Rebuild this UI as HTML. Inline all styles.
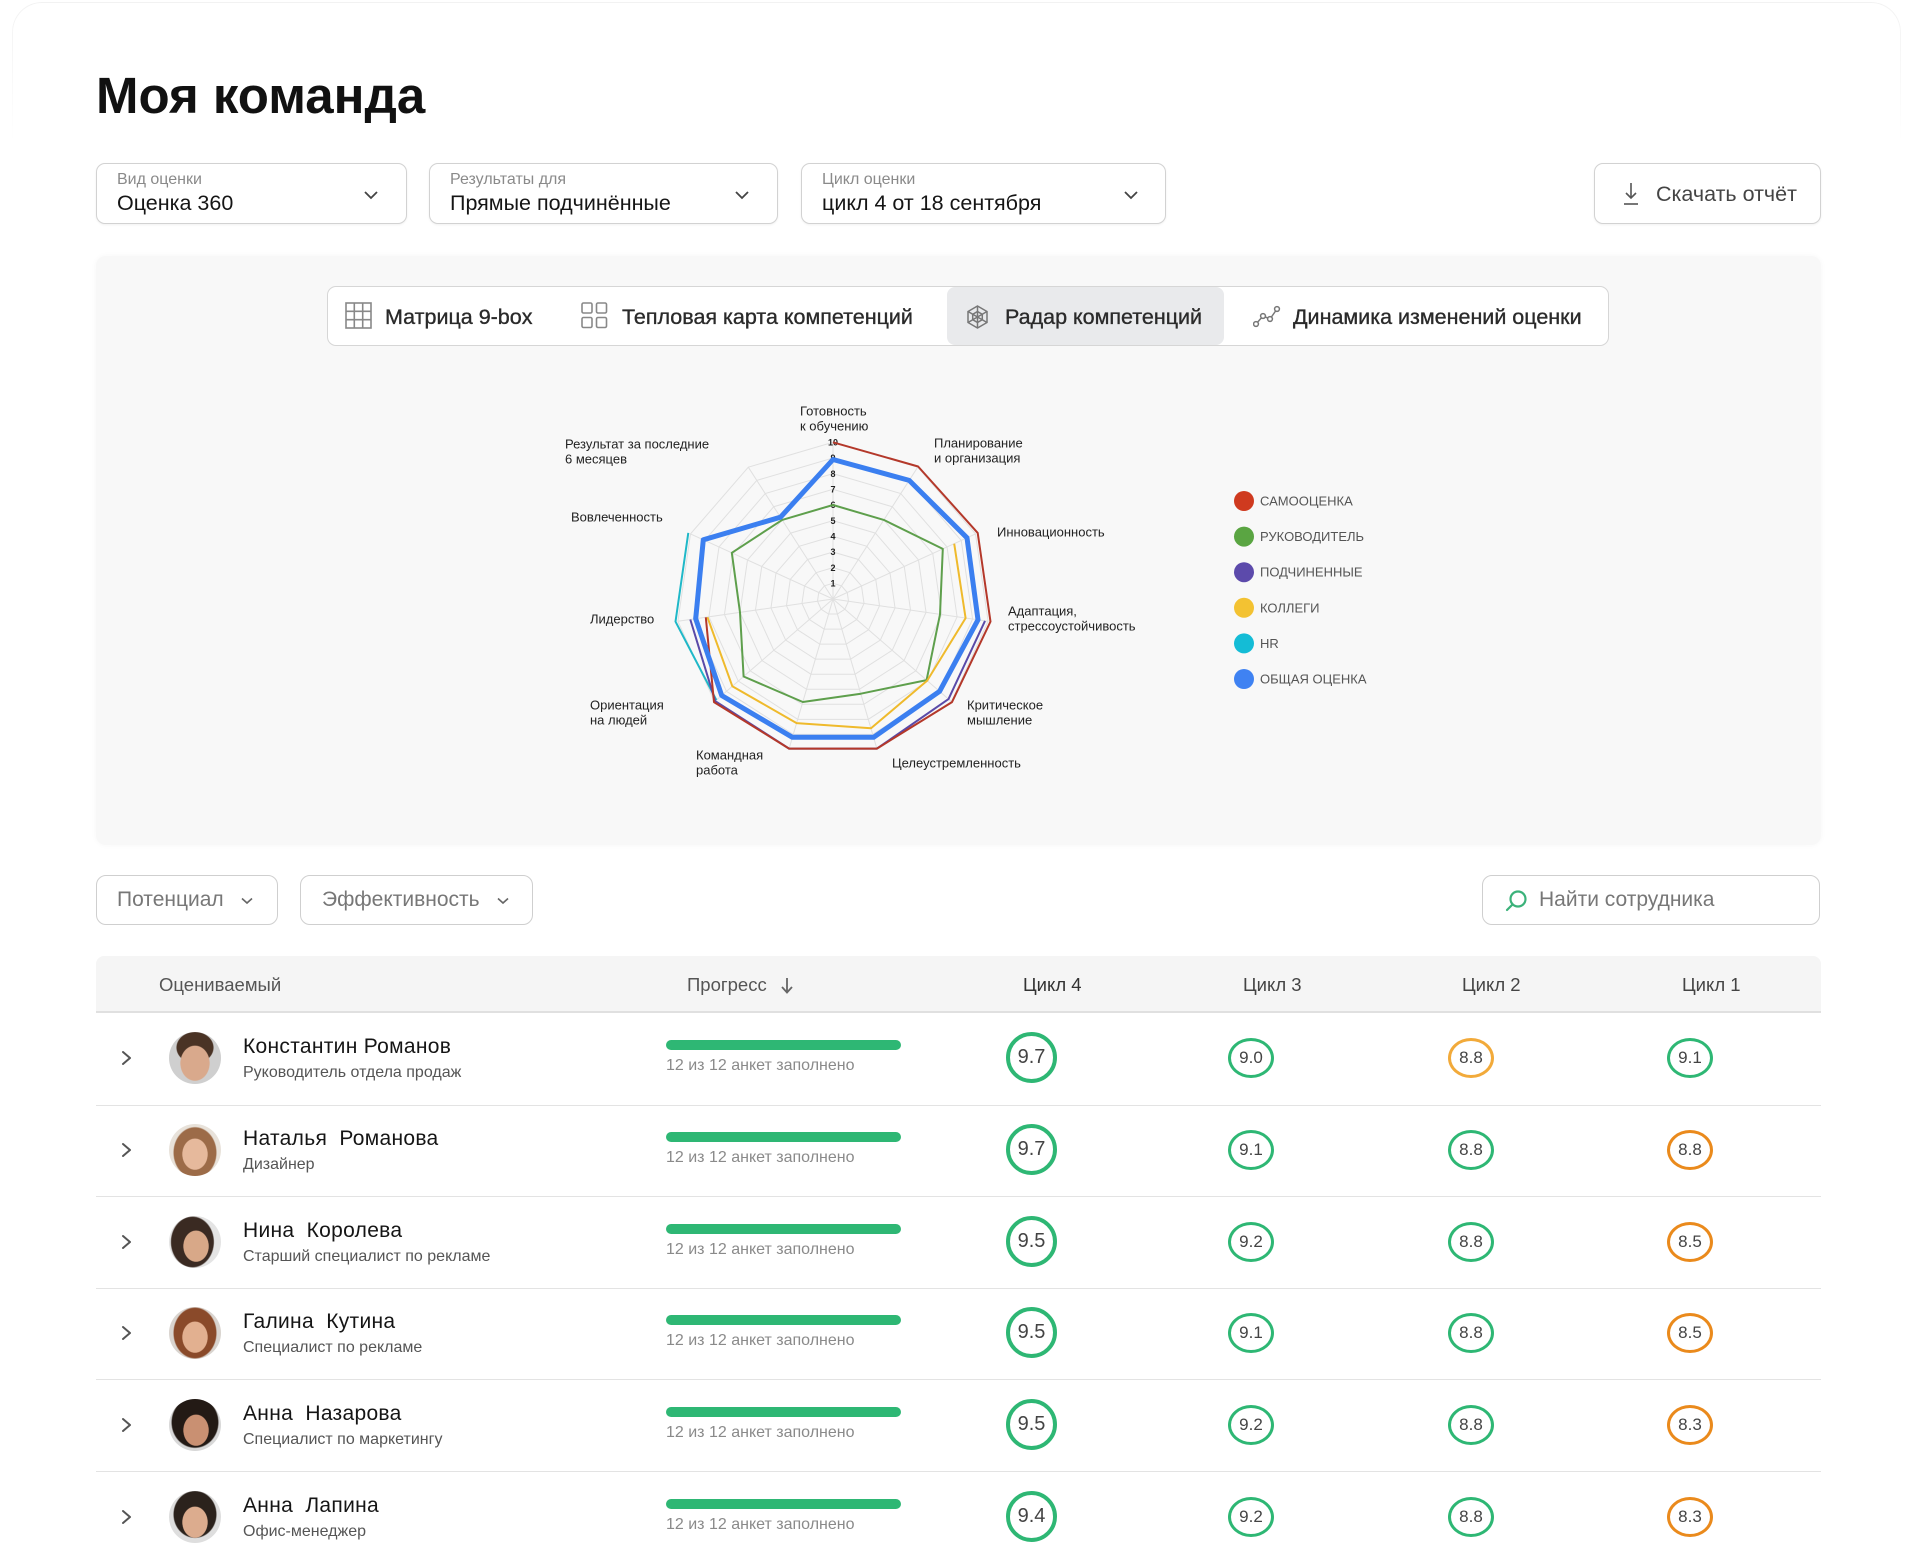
<!DOCTYPE html>
<html lang="ru">
<head>
<meta charset="utf-8">
<style>
  html{margin:0;padding:0;width:1911px;height:1545px;overflow:hidden;}
  body{margin:0;padding:0;width:1911px;height:1545px;overflow:hidden;background:#fff;position:relative;
       font-family:"Liberation Sans","Noto Sans CJK SC",sans-serif;color:#222;}
  .abs{position:absolute;}
  .t{position:absolute;white-space:nowrap;}
  .dd{position:absolute;top:163px;height:61px;box-sizing:border-box;border:1px solid #d2d2d2;border-radius:9px;background:#fff;box-shadow:0 1px 2px rgba(0,0,0,0.06);}
  .ddl{position:absolute;left:20px;top:6px;font-size:16px;line-height:19px;color:#8a8a8a;white-space:nowrap;}
  .ddv{position:absolute;left:20px;top:27px;font-size:21.5px;line-height:25px;color:#151515;white-space:nowrap;}
  .fb{position:absolute;top:875px;height:50px;box-sizing:border-box;border:1px solid #cfcfcf;border-radius:10px;background:#fff;}
  .fbt{position:absolute;top:11px;font-size:21px;line-height:26px;color:#777;white-space:nowrap;}
  .hd{position:absolute;top:973px;font-size:18.5px;line-height:23px;color:#555;white-space:nowrap;}
  .sep{position:absolute;left:96px;width:1725px;height:1px;background:#e3e3e3;}
  .av{position:absolute;left:169px;width:52px;height:52px;border-radius:50%;overflow:hidden;}
  .nm{position:absolute;left:243px;font-size:21px;line-height:24px;letter-spacing:0.3px;color:#151515;white-space:nowrap;}
  .sb{position:absolute;left:243px;font-size:16px;line-height:20px;color:#555;white-space:nowrap;}
  .pb{position:absolute;left:666px;width:235px;height:10px;border-radius:5px;background:#2eb774;}
  .pt{position:absolute;left:666px;font-size:16px;line-height:20px;color:#8a8a8a;white-space:nowrap;}
  .c4{position:absolute;left:1006px;width:51px;height:51px;box-sizing:border-box;border:4.5px solid #2eb774;border-radius:50%;
      display:flex;align-items:center;justify-content:center;font-size:20px;color:#444;}
  .cs{position:absolute;width:46px;height:40px;box-sizing:border-box;border:3px solid #2eb774;border-radius:50%;
      display:flex;align-items:center;justify-content:center;font-size:17px;color:#444;}
  .o1{border-color:#f2aa3a;}
  .o2{border-color:#ea8a1c;}
  .tab{position:absolute;top:304px;font-size:21.5px;line-height:26px;color:#2a2a2a;white-space:nowrap;-webkit-text-stroke:0.35px #2a2a2a;}
</style>
</head>
<body>

<!-- faint outer card (top only) -->
<div class="abs" style="left:12px;top:2px;width:1887px;height:140px;border:1px solid #f2f2f2;border-bottom:none;border-radius:30px 30px 0 0;-webkit-mask-image:linear-gradient(#000,transparent);mask-image:linear-gradient(#000,transparent);"></div>

<!-- Title -->
<div class="t" style="left:96px;top:68px;font-size:51px;line-height:56px;font-weight:bold;color:#111;">Моя команда</div>

<!-- Dropdowns -->
<div class="dd" style="left:96px;width:311px;">
  <div class="ddl">Вид оценки</div>
  <div class="ddv">Оценка 360</div>
  <svg class="abs" style="left:267px;top:26px" width="14" height="10"><polyline points="1,2 7,8 13,2" fill="none" stroke="#444" stroke-width="1.8"/></svg>
</div>
<div class="dd" style="left:429px;width:349px;">
  <div class="ddl">Результаты для</div>
  <div class="ddv">Прямые подчинённые</div>
  <svg class="abs" style="left:305px;top:26px" width="14" height="10"><polyline points="1,2 7,8 13,2" fill="none" stroke="#444" stroke-width="1.8"/></svg>
</div>
<div class="dd" style="left:801px;width:365px;">
  <div class="ddl">Цикл оценки</div>
  <div class="ddv">цикл 4 от 18 сентября</div>
  <svg class="abs" style="left:322px;top:26px" width="14" height="10"><polyline points="1,2 7,8 13,2" fill="none" stroke="#444" stroke-width="1.8"/></svg>
</div>
<div class="dd" style="left:1594px;width:227px;">
  <svg class="abs" style="left:27px;top:17px" width="18" height="26">
    <line x1="9" y1="2" x2="9" y2="17" stroke="#555" stroke-width="1.6"/>
    <polyline points="4,12 9,17 14,12" fill="none" stroke="#555" stroke-width="1.6"/>
    <line x1="2" y1="23" x2="16" y2="23" stroke="#555" stroke-width="1.6"/>
  </svg>
  <div class="t" style="left:61px;top:17px;font-size:21.5px;line-height:26px;color:#444;">Скачать отчёт</div>
</div>

<!-- Grey panel -->
<div class="abs" style="left:96px;top:256px;width:1725px;height:589px;background:#f8f8f8;border-radius:10px;box-shadow:0 0 6px rgba(0,0,0,0.04);"></div>

<!-- Tabs -->
<div class="abs" style="left:327px;top:286px;width:1282px;height:60px;box-sizing:border-box;background:#fff;border:1px solid #d6d6d6;border-radius:9px;"></div>
<div class="abs" style="left:947px;top:287px;width:277px;height:58px;background:#e9eaec;border-radius:8px;"></div>

<svg class="abs" style="left:345px;top:302px" width="27" height="27">
  <rect x="1" y="1" width="25" height="25" fill="none" stroke="#888" stroke-width="1.6"/>
  <line x1="9.3" y1="1" x2="9.3" y2="26" stroke="#888" stroke-width="1.6"/>
  <line x1="17.7" y1="1" x2="17.7" y2="26" stroke="#888" stroke-width="1.6"/>
  <line x1="1" y1="9.3" x2="26" y2="9.3" stroke="#888" stroke-width="1.6"/>
  <line x1="1" y1="17.7" x2="26" y2="17.7" stroke="#888" stroke-width="1.6"/>
</svg>
<div class="tab" style="left:385px;">Матрица 9-box</div>

<svg class="abs" style="left:581px;top:302px" width="27" height="27">
  <rect x="1" y="1" width="10" height="10" rx="1.5" fill="none" stroke="#888" stroke-width="1.6"/>
  <rect x="15.5" y="1" width="10" height="10" rx="1.5" fill="none" stroke="#888" stroke-width="1.6"/>
  <rect x="1" y="15.5" width="10" height="10" rx="1.5" fill="none" stroke="#888" stroke-width="1.6"/>
  <rect x="15.5" y="15.5" width="10" height="10" rx="1.5" fill="none" stroke="#888" stroke-width="1.6"/>
</svg>
<div class="tab" style="left:622px;">Тепловая карта компетенций</div>

<svg class="abs" style="left:965px;top:304px" width="25" height="26">
  <g transform="translate(12.5,13)" fill="none" stroke="#777" stroke-width="1.5">
    <polygon points="0,-11 9.5,-5.5 9.5,5.5 0,11 -9.5,5.5 -9.5,-5.5"/>
    <polygon points="0,-5.5 4.8,-2.7 4.8,2.7 0,5.5 -4.8,2.7 -4.8,-2.7"/>
    <line x1="0" y1="-11" x2="0" y2="11"/>
    <line x1="-9.5" y1="-5.5" x2="9.5" y2="5.5"/>
    <line x1="-9.5" y1="5.5" x2="9.5" y2="-5.5"/>
  </g>
</svg>
<div class="tab" style="left:1005px;">Радар компетенций</div>

<svg class="abs" style="left:1253px;top:304px" width="28" height="24">
  <g fill="none" stroke="#777" stroke-width="1.5">
    <polyline points="3,20 10,12 17,15 24,5"/>
    <circle cx="3" cy="20" r="2.4" fill="#fff"/>
    <circle cx="10" cy="12" r="2.4" fill="#fff"/>
    <circle cx="17" cy="15" r="2.4" fill="#fff"/>
    <circle cx="24" cy="5" r="2.4" fill="#fff"/>
  </g>
</svg>
<div class="tab" style="left:1293px;">Динамика изменений оценки</div>

<!-- Radar chart -->
<svg class="abs" style="left:0;top:0" width="1911" height="1545">
  <g transform="translate(833,599)">
    <g fill="none" stroke="#e0e0e0" stroke-width="1">
      <polygon vector-effect="non-scaling-stroke" transform="scale(1)" points="0,-156.7 84.7,-131.8 142.5,-65.1 155.1,22.3 118.4,102.6 44.1,150.4 -44.1,150.4 -118.4,102.6 -155.1,22.3 -142.5,-65.1 -84.7,-131.8"/>
      <polygon vector-effect="non-scaling-stroke" transform="scale(0.9)" points="0,-156.7 84.7,-131.8 142.5,-65.1 155.1,22.3 118.4,102.6 44.1,150.4 -44.1,150.4 -118.4,102.6 -155.1,22.3 -142.5,-65.1 -84.7,-131.8"/>
      <polygon vector-effect="non-scaling-stroke" transform="scale(0.8)" points="0,-156.7 84.7,-131.8 142.5,-65.1 155.1,22.3 118.4,102.6 44.1,150.4 -44.1,150.4 -118.4,102.6 -155.1,22.3 -142.5,-65.1 -84.7,-131.8"/>
      <polygon vector-effect="non-scaling-stroke" transform="scale(0.7)" points="0,-156.7 84.7,-131.8 142.5,-65.1 155.1,22.3 118.4,102.6 44.1,150.4 -44.1,150.4 -118.4,102.6 -155.1,22.3 -142.5,-65.1 -84.7,-131.8"/>
      <polygon vector-effect="non-scaling-stroke" transform="scale(0.6)" points="0,-156.7 84.7,-131.8 142.5,-65.1 155.1,22.3 118.4,102.6 44.1,150.4 -44.1,150.4 -118.4,102.6 -155.1,22.3 -142.5,-65.1 -84.7,-131.8"/>
      <polygon vector-effect="non-scaling-stroke" transform="scale(0.5)" points="0,-156.7 84.7,-131.8 142.5,-65.1 155.1,22.3 118.4,102.6 44.1,150.4 -44.1,150.4 -118.4,102.6 -155.1,22.3 -142.5,-65.1 -84.7,-131.8"/>
      <polygon vector-effect="non-scaling-stroke" transform="scale(0.4)" points="0,-156.7 84.7,-131.8 142.5,-65.1 155.1,22.3 118.4,102.6 44.1,150.4 -44.1,150.4 -118.4,102.6 -155.1,22.3 -142.5,-65.1 -84.7,-131.8"/>
      <polygon vector-effect="non-scaling-stroke" transform="scale(0.3)" points="0,-156.7 84.7,-131.8 142.5,-65.1 155.1,22.3 118.4,102.6 44.1,150.4 -44.1,150.4 -118.4,102.6 -155.1,22.3 -142.5,-65.1 -84.7,-131.8"/>
      <polygon vector-effect="non-scaling-stroke" transform="scale(0.2)" points="0,-156.7 84.7,-131.8 142.5,-65.1 155.1,22.3 118.4,102.6 44.1,150.4 -44.1,150.4 -118.4,102.6 -155.1,22.3 -142.5,-65.1 -84.7,-131.8"/>
      <polygon vector-effect="non-scaling-stroke" transform="scale(0.1)" points="0,-156.7 84.7,-131.8 142.5,-65.1 155.1,22.3 118.4,102.6 44.1,150.4 -44.1,150.4 -118.4,102.6 -155.1,22.3 -142.5,-65.1 -84.7,-131.8"/>
      <line x1="0" y1="0" x2="0" y2="-156.7"/>
      <line x1="0" y1="0" x2="84.7" y2="-131.8"/>
      <line x1="0" y1="0" x2="142.5" y2="-65.1"/>
      <line x1="0" y1="0" x2="155.1" y2="22.3"/>
      <line x1="0" y1="0" x2="118.4" y2="102.6"/>
      <line x1="0" y1="0" x2="44.1" y2="150.4"/>
      <line x1="0" y1="0" x2="-44.1" y2="150.4"/>
      <line x1="0" y1="0" x2="-118.4" y2="102.6"/>
      <line x1="0" y1="0" x2="-155.1" y2="22.3"/>
      <line x1="0" y1="0" x2="-142.5" y2="-65.1"/>
      <line x1="0" y1="0" x2="-84.7" y2="-131.8"/>
    </g>
    <!-- tick labels -->
    <g font-family="Liberation Sans, sans-serif" font-size="9" font-weight="bold" fill="#222" text-anchor="middle">
      <text x="0" y="-12.5">1</text>
      <text x="0" y="-28.1">2</text>
      <text x="0" y="-43.8">3</text>
      <text x="0" y="-59.5">4</text>
      <text x="0" y="-75.2">5</text>
      <text x="0" y="-90.8">6</text>
      <text x="0" y="-106.5">7</text>
      <text x="0" y="-122.2">8</text>
      <text x="0" y="-137.8">9</text>
      <text x="0" y="-153.5">10</text>
    </g>
    <!-- series -->
    <polygon fill="none" stroke="#5e9f4c" stroke-width="2" stroke-linejoin="round"
      points="0,-94 50.8,-79.1 109.8,-50.1 107,15.4 93.6,81.1 27.8,94.7 -30.2,103 -89.4,77.5 -93,13.4 -101.2,-46.2 -50.8,-79.1"/>
    <polyline fill="none" stroke="#efba2c" stroke-width="2" stroke-linejoin="round"
      points="121.2,-55.3 132.6,19.1 94.2,81.6 38,129.3 -36.4,124.1 -100.7,87.2 -125.6,18.1"/>
    <polyline fill="none" stroke="#1fb8c8" stroke-width="2" stroke-linejoin="round"
      points="-116.6,101.1 -157.5,22.6 -144.7,-66.1"/>
    <polyline fill="none" stroke="#5a4aa8" stroke-width="2" stroke-linejoin="round"
      points="152,21.9 115.5,100.1 43.9,149.6 -43.9,149.6 -117.8,102.1 -142.7,20.5"/>
    <polyline fill="none" stroke="#b4382a" stroke-width="2" stroke-linejoin="round"
      points="0,-156.7 85.1,-132.5 144.7,-66.1 157.5,22.6 119,103.1 43.9,149.6 -43.9,149.6 -119,103.1 -127.2,18.3"/>
    <polygon fill="none" stroke="#3b7ff0" stroke-width="5" stroke-linejoin="round"
      points="0,-139.5 76.2,-118.6 134,-61.2 145,20.8 106.6,92.3 40.6,138.3 -40.6,138.3 -111.3,96.5 -137.3,19.7 -129.7,-59.2 -52.5,-81.8"/>
  </g>
  <!-- axis labels -->
  <g font-family="Liberation Sans, sans-serif" font-size="13" fill="#222">
    <text x="800" y="415.5">Готовность</text>
    <text x="800" y="430.5">к обучению</text>
    <text x="565" y="448.5">Результат за последние</text>
    <text x="565" y="463.5">6 месяцев</text>
    <text x="934" y="447.5">Планирование</text>
    <text x="934" y="462.5">и организация</text>
    <text x="571" y="521.5">Вовлеченность</text>
    <text x="997" y="536.5">Инновационность</text>
    <text x="590" y="623.5">Лидерство</text>
    <text x="1008" y="615.5">Адаптация,</text>
    <text x="1008" y="630.5">стрессоустойчивость</text>
    <text x="590" y="709.5">Ориентация</text>
    <text x="590" y="724.5">на людей</text>
    <text x="967" y="709.5">Критическое</text>
    <text x="967" y="724.5">мышление</text>
    <text x="696" y="759.5">Командная</text>
    <text x="696" y="774.5">работа</text>
    <text x="892" y="767.5">Целеустремленность</text>
  </g>
  <!-- legend -->
  <g>
    <circle cx="1244" cy="501" r="10" fill="#cf3a1f"/>
    <circle cx="1244" cy="536.6" r="10" fill="#5aa542"/>
    <circle cx="1244" cy="572.2" r="10" fill="#5c4aab"/>
    <circle cx="1244" cy="607.8" r="10" fill="#f3c232"/>
    <circle cx="1244" cy="643.4" r="10" fill="#14bcd6"/>
    <circle cx="1244" cy="679" r="10" fill="#3f82f2"/>
  </g>
  <g font-family="Liberation Sans, sans-serif" font-size="13" fill="#555">
    <text x="1260" y="505.5">САМООЦЕНКА</text>
    <text x="1260" y="541.1">РУКОВОДИТЕЛЬ</text>
    <text x="1260" y="576.7">ПОДЧИНЕННЫЕ</text>
    <text x="1260" y="612.3">КОЛЛЕГИ</text>
    <text x="1260" y="647.9">HR</text>
    <text x="1260" y="683.5">ОБЩАЯ ОЦЕНКА</text>
  </g>
</svg>

<!-- Filters -->
<div class="fb" style="left:96px;width:182px;">
  <div class="fbt" style="left:20px;">Потенциал</div>
  <svg class="abs" style="left:144px;top:21px" width="12" height="8"><polyline points="1,1.5 6,6 11,1.5" fill="none" stroke="#666" stroke-width="1.6"/></svg>
</div>
<div class="fb" style="left:300px;width:233px;">
  <div class="fbt" style="left:21px;">Эффективность</div>
  <svg class="abs" style="left:196px;top:21px" width="12" height="8"><polyline points="1,1.5 6,6 11,1.5" fill="none" stroke="#666" stroke-width="1.6"/></svg>
</div>
<div class="fb" style="left:1482px;width:338px;">
  <svg class="abs" style="left:21px;top:12px" width="26" height="26">
    <circle cx="14" cy="11" r="7.5" fill="none" stroke="#3bb27a" stroke-width="2.2"/>
    <line x1="8.5" y1="16.5" x2="3" y2="22" stroke="#3bb27a" stroke-width="2.2" stroke-linecap="round"/>
  </svg>
  <div class="fbt" style="left:56px;">Найти сотрудника</div>
</div>

<!-- Table header -->
<div class="abs" style="left:96px;top:956px;width:1725px;height:55px;background:#f5f5f5;border-radius:8px 8px 0 0;border-bottom:2px solid #e0e0e0;"></div>
<div class="hd" style="left:159px;">Оцениваемый</div>
<div class="hd" style="left:687px;">Прогресс</div>
<svg class="abs" style="left:780px;top:977px" width="14" height="18">
  <line x1="7" y1="1" x2="7" y2="15" stroke="#666" stroke-width="1.8"/>
  <polyline points="2,10 7,15.5 12,10" fill="none" stroke="#666" stroke-width="1.8"/>
</svg>
<div class="hd" style="left:1023px;color:#333;">Цикл 4</div>
<div class="hd" style="left:1243px;color:#444;">Цикл 3</div>
<div class="hd" style="left:1462px;color:#444;">Цикл 2</div>
<div class="hd" style="left:1682px;color:#444;">Цикл 1</div>

<!-- Row separators -->
<div class="sep" style="top:1105px;"></div>
<div class="sep" style="top:1196px;"></div>
<div class="sep" style="top:1288px;"></div>
<div class="sep" style="top:1379px;"></div>
<div class="sep" style="top:1471px;"></div>

<!-- chevrons -->
<svg class="abs" style="left:0;top:0" width="200" height="1545">
  <g fill="none" stroke="#555" stroke-width="2" stroke-linecap="round" stroke-linejoin="round">
    <polyline points="123,1052 130,1058 123,1064"/>
    <polyline points="123,1144 130,1150 123,1156"/>
    <polyline points="123,1236 130,1242 123,1248"/>
    <polyline points="123,1327 130,1333 123,1339"/>
    <polyline points="123,1419 130,1425 123,1431"/>
    <polyline points="123,1511 130,1517 123,1523"/>
  </g>
</svg>

<!-- Row 1 -->
<div class="av" style="top:1032px;background:radial-gradient(ellipse 15px 18px at 50% 60%,#d9a98c 0 95%,transparent 100%),radial-gradient(ellipse 19px 16px at 50% 30%,#4a3325 0 95%,transparent 100%),#cfcfcf;"></div>
<div class="nm" style="top:1035px;">Константин Романов</div>
<div class="sb" style="top:1063px;">Руководитель отдела продаж</div>
<div class="pb" style="top:1040px;"></div>
<div class="pt" style="top:1056px;">12 из 12 анкет заполнено</div>
<div class="c4" style="top:1032px;">9.7</div>
<div class="cs" style="left:1228px;top:1038px;">9.0</div>
<div class="cs o1" style="left:1448px;top:1038px;">8.8</div>
<div class="cs" style="left:1667px;top:1038px;">9.1</div>

<!-- Row 2 -->
<div class="av" style="top:1124px;background:radial-gradient(ellipse 13px 16px at 50% 58%,#e6b99c 0 95%,transparent 100%),radial-gradient(ellipse 22px 26px at 50% 55%,#9c6b48 0 95%,transparent 100%),#e8e2da;"></div>
<div class="nm" style="top:1127px;">Наталья&nbsp; Романова</div>
<div class="sb" style="top:1155px;">Дизайнер</div>
<div class="pb" style="top:1132px;"></div>
<div class="pt" style="top:1148px;">12 из 12 анкет заполнено</div>
<div class="c4" style="top:1124px;">9.7</div>
<div class="cs" style="left:1228px;top:1130px;">9.1</div>
<div class="cs" style="left:1448px;top:1130px;">8.8</div>
<div class="cs o2" style="left:1667px;top:1130px;">8.8</div>

<!-- Row 3 -->
<div class="av" style="top:1216px;background:radial-gradient(ellipse 13px 16px at 52% 58%,#d8a888 0 95%,transparent 100%),radial-gradient(ellipse 22px 26px at 45% 50%,#3a2a22 0 95%,transparent 100%),#e4e4e4;"></div>
<div class="nm" style="top:1219px;">Нина&nbsp; Королева</div>
<div class="sb" style="top:1247px;">Старший специалист по рекламе</div>
<div class="pb" style="top:1224px;"></div>
<div class="pt" style="top:1240px;">12 из 12 анкет заполнено</div>
<div class="c4" style="top:1216px;">9.5</div>
<div class="cs" style="left:1228px;top:1222px;">9.2</div>
<div class="cs" style="left:1448px;top:1222px;">8.8</div>
<div class="cs o2" style="left:1667px;top:1222px;">8.5</div>

<!-- Row 4 -->
<div class="av" style="top:1307px;background:radial-gradient(ellipse 13px 16px at 50% 58%,#e2b090 0 95%,transparent 100%),radial-gradient(ellipse 22px 26px at 50% 50%,#8a4a2a 0 95%,transparent 100%),#d9d4cf;"></div>
<div class="nm" style="top:1310px;">Галина&nbsp; Кутина</div>
<div class="sb" style="top:1338px;">Специалист по рекламе</div>
<div class="pb" style="top:1315px;"></div>
<div class="pt" style="top:1331px;">12 из 12 анкет заполнено</div>
<div class="c4" style="top:1307px;">9.5</div>
<div class="cs" style="left:1228px;top:1313px;">9.1</div>
<div class="cs" style="left:1448px;top:1313px;">8.8</div>
<div class="cs o2" style="left:1667px;top:1313px;">8.5</div>

<!-- Row 5 -->
<div class="av" style="top:1399px;background:radial-gradient(ellipse 13px 16px at 52% 60%,#c99072 0 95%,transparent 100%),radial-gradient(ellipse 24px 26px at 50% 45%,#231a15 0 95%,transparent 100%),#d8d8d8;"></div>
<div class="nm" style="top:1402px;">Анна&nbsp; Назарова</div>
<div class="sb" style="top:1430px;">Специалист по маркетингу</div>
<div class="pb" style="top:1407px;"></div>
<div class="pt" style="top:1423px;">12 из 12 анкет заполнено</div>
<div class="c4" style="top:1399px;">9.5</div>
<div class="cs" style="left:1228px;top:1405px;">9.2</div>
<div class="cs" style="left:1448px;top:1405px;">8.8</div>
<div class="cs o2" style="left:1667px;top:1405px;">8.3</div>

<!-- Row 6 -->
<div class="av" style="top:1491px;background:radial-gradient(ellipse 13px 16px at 50% 60%,#dcac8e 0 95%,transparent 100%),radial-gradient(ellipse 22px 24px at 50% 45%,#2b221c 0 95%,transparent 100%),#dedede;"></div>
<div class="nm" style="top:1494px;">Анна&nbsp; Лапина</div>
<div class="sb" style="top:1522px;">Офис-менеджер</div>
<div class="pb" style="top:1499px;"></div>
<div class="pt" style="top:1515px;">12 из 12 анкет заполнено</div>
<div class="c4" style="top:1491px;">9.4</div>
<div class="cs" style="left:1228px;top:1497px;">9.2</div>
<div class="cs" style="left:1448px;top:1497px;">8.8</div>
<div class="cs o2" style="left:1667px;top:1497px;">8.3</div>

</body>
</html>
